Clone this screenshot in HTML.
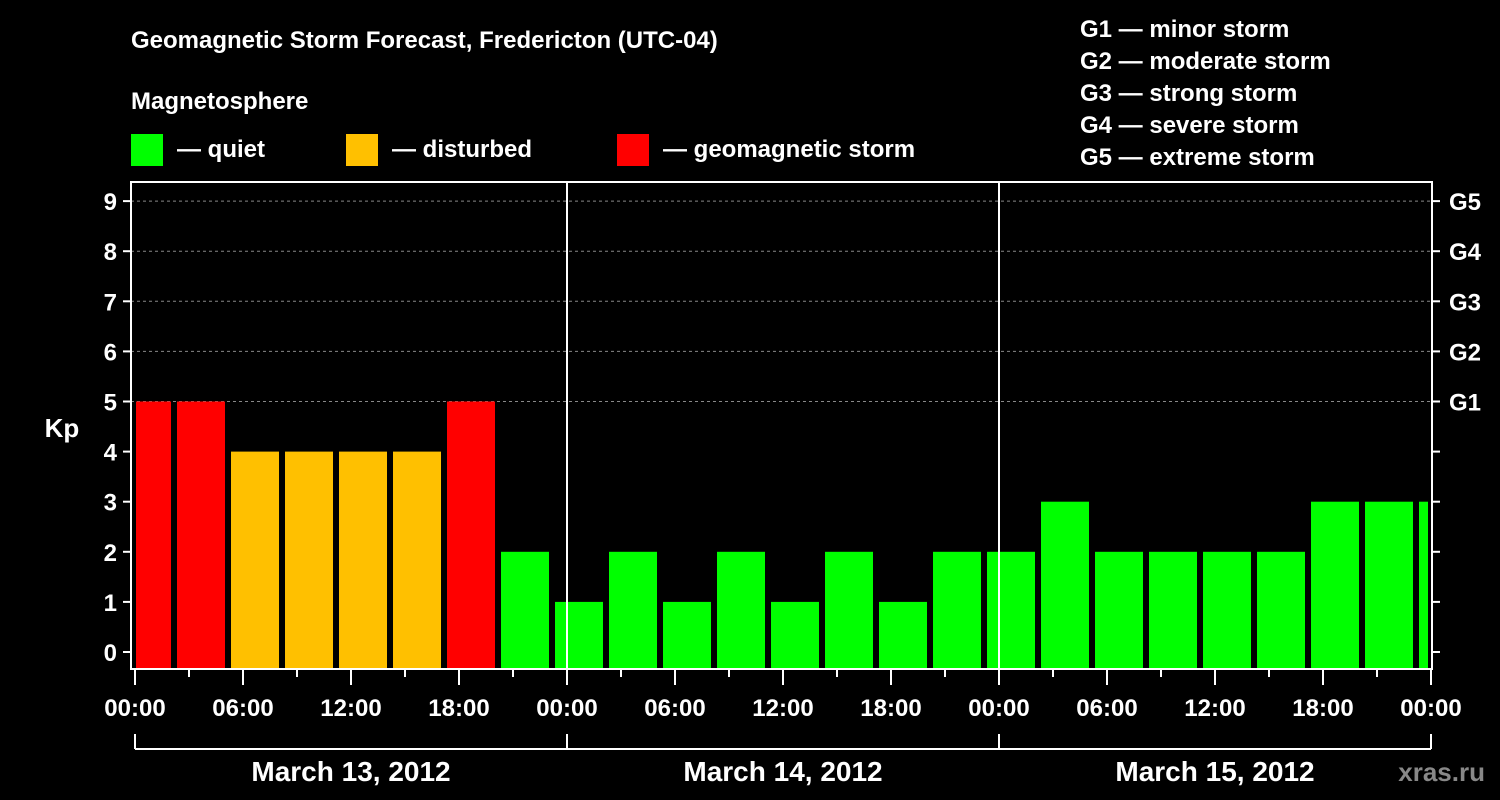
<!DOCTYPE html>
<html><head><meta charset="utf-8"><style>
body{margin:0;background:#000;}
svg{display:block;font-family:"Liberation Sans",sans-serif;font-weight:bold;}
</style></head><body>
<svg id="chart" width="1500" height="800" viewBox="0 0 1500 800">
<rect width="1500" height="800" fill="#000"/>
<text x="131" y="48" fill="#fff" font-size="24">Geomagnetic Storm Forecast, Fredericton (UTC-04)</text>
<text x="131" y="109" fill="#fff" font-size="24">Magnetosphere</text>
<g><rect x="131" y="134" width="32" height="32" fill="#00ff00"/><text x="177" y="157" fill="#fff" font-size="24">— quiet</text></g>
<g><rect x="346" y="134" width="32" height="32" fill="#ffc000"/><text x="392" y="157" fill="#fff" font-size="24">— disturbed</text></g>
<g><rect x="617" y="134" width="32" height="32" fill="#ff0000"/><text x="663" y="157" fill="#fff" font-size="24">— geomagnetic storm</text></g>
<g fill="#fff" font-size="24">
<text x="1080" y="37">G1 — minor storm</text>
<text x="1080" y="69">G2 — moderate storm</text>
<text x="1080" y="101">G3 — strong storm</text>
<text x="1080" y="133">G4 — severe storm</text>
<text x="1080" y="165">G5 — extreme storm</text>
</g>
<g id="plot"></g>
<text x="62" y="437" fill="#fff" font-size="26" text-anchor="middle">Kp</text>
<text x="1485" y="781" fill="#888" font-size="26" text-anchor="end">xras.ru</text>
</svg>
<script>
const kpValues=[5,5,4,4,4,4,5,2,1,2,1,2,1,2,1,2,2,3,2,2,2,2,3,3,3];
const yTicks=[0,1,2,3,4,5,6,7,8,9];
const gLabels=["G1","G2","G3","G4","G5"];
const hourLabels=["00:00","06:00","12:00","18:00","00:00","06:00","12:00","18:00","00:00","06:00","12:00","18:00","00:00"];
const dayLabels=["March 13, 2012","March 14, 2012","March 15, 2012"];
const barStartHour=-0.833, barStepHours=3;

const NS="http://www.w3.org/2000/svg";
const g=document.getElementById('plot');
const L=131,R=1432,T=182,B=669,X0=135,PXH=18;
const x=h=>X0+h*PXH;
const y=v=>652-v*50.1;
function mk(t,a,p){const e=document.createElementNS(NS,t);for(const k in a)e.setAttribute(k,a[k]);(p||g).appendChild(e);return e;}
function col(v){return v>=5?"#ff0000":v>=4?"#ffc000":"#00ff00";}
// gridlines
for(let v=5;v<=9;v++){const e=mk('line',{x1:L,x2:R,y1:y(v),y2:y(v),stroke:"#888","stroke-dasharray":"3,3","stroke-width":1});
}
// bars
kpValues.forEach((v,i)=>{let x1=x(barStartHour+i*barStepHours)+3,x2=x(barStartHour+(i+1)*barStepHours)-3;
x1=Math.max(x1,L+5);x2=Math.min(x2,R-4);
const e=mk('rect',{x:x1,y:y(v),width:x2-x1,height:B-y(v),fill:col(v)});
});
// day separators
[24,48].forEach(h=>{const e=mk('line',{x1:x(h),x2:x(h),y1:T,y2:B,stroke:"#fff","stroke-width":2});
});
// frame
const fr=mk('rect',{x:L,y:T,width:R-L,height:B-T,fill:"none",stroke:"#fff","stroke-width":2});

// y ticks
yTicks.forEach(v=>{mk('line',{x1:L-8,x2:L,y1:y(v),y2:y(v),stroke:"#fff","stroke-width":2});
mk('line',{x1:R,x2:R+8,y1:y(v),y2:y(v),stroke:"#fff","stroke-width":2});
const t=mk('text',{x:L-14,y:y(v)+9,fill:"#fff","font-size":24,"text-anchor":"end"});t.textContent=v;
});
gLabels.forEach((s,i)=>{const t=mk('text',{x:R+17,y:y(5+i)+9,fill:"#fff","font-size":24});t.textContent=s;
});
// x ticks
for(let h=0;h<=72;h+=3){const maj=h%6==0;mk('line',{x1:x(h),x2:x(h),y1:B,y2:B+(maj?16:8),stroke:"#fff","stroke-width":2});}
hourLabels.forEach((s,i)=>{const t=mk('text',{x:x(i*6),y:716,fill:"#fff","font-size":24,"text-anchor":"middle"});t.textContent=s;
});
// day brackets
mk('line',{x1:x(0),x2:x(72),y1:749,y2:749,stroke:"#fff","stroke-width":2});
for(let d=0;d<=3;d++)mk('line',{x1:x(d*24),x2:x(d*24),y1:734,y2:749,stroke:"#fff","stroke-width":2});
dayLabels.forEach((s,i)=>{const t=mk('text',{x:x(i*24+12),y:781,fill:"#fff","font-size":28,"text-anchor":"middle"});t.textContent=s;
});
</script>
</body></html>
